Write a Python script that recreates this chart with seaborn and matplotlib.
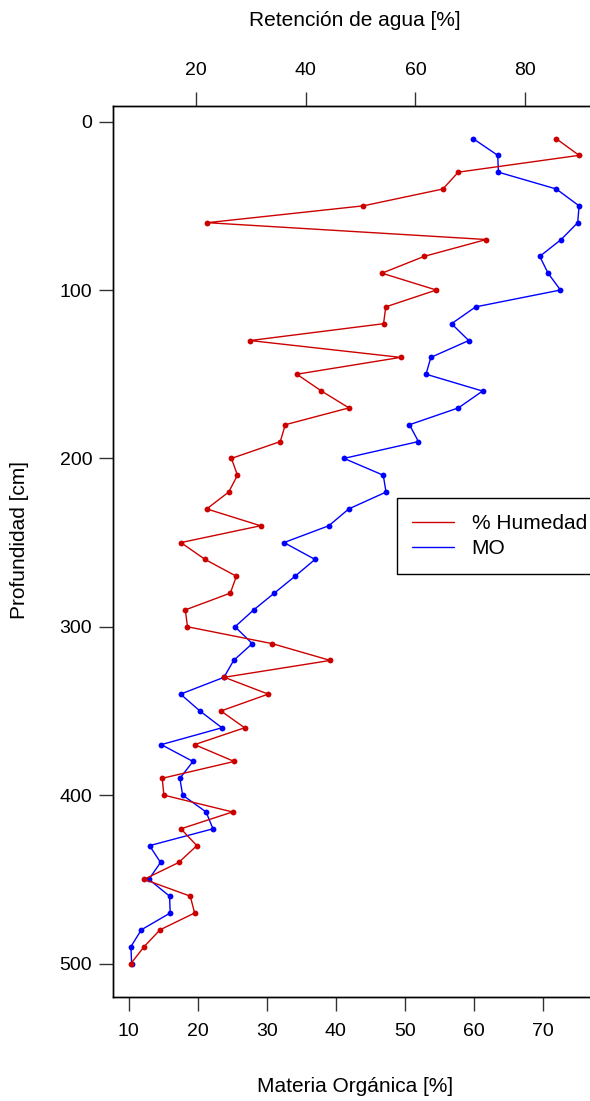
import matplotlib
matplotlib.use("Agg")
import matplotlib.pyplot as plt
from matplotlib.lines import Line2D
import seaborn as sns
import pandas as pd

# ---- data ----
profundidad = [10, 20, 30, 40, 50, 60, 70, 80, 90, 100,
               110, 120, 130, 140, 150, 160, 170, 180, 190, 200,
               210, 220, 230, 240, 250, 260, 270, 280, 290, 300,
               310, 320, 330, 340, 350, 360, 370, 380, 390, 400,
               410, 420, 430, 440, 450, 460, 470, 480, 490, 500]
humedad = [85.6, 89.8, 67.8, 65.0, 50.5, 22.1, 72.9, 61.6, 53.9, 63.8,
           54.6, 54.2, 29.9, 57.3, 38.4, 42.9, 47.9, 36.3, 35.4, 26.5,
           27.6, 26.0, 22.0, 31.8, 17.3, 21.7, 27.4, 26.3, 18.1, 18.5,
           33.9, 44.5, 25.2, 33.2, 24.6, 28.9, 19.8, 27.0, 13.9, 14.2,
           26.7, 17.3, 20.2, 16.9, 10.6, 19.0, 19.8, 13.5, 10.6, 8.2]
materia_organica = [59.9, 63.5, 63.6, 72.0, 75.3, 75.1, 72.7, 69.6, 70.8, 72.6,
                    60.3, 56.8, 59.3, 53.8, 53.1, 61.3, 57.8, 50.7, 52.0, 41.2,
                    46.9, 47.3, 41.9, 39.0, 32.5, 37.0, 34.1, 31.1, 28.1, 25.4,
                    27.9, 25.2, 23.8, 17.5, 20.3, 23.5, 14.7, 19.3, 17.4, 17.8,
                    21.2, 22.2, 13.0, 14.6, 12.9, 15.9, 16.0, 11.8, 10.3, 10.4]
mo_ticks = [10, 20, 30, 40, 50, 60, 70]
hum_ticks = [20, 40, 60, 80]
depth_ticks = [0, 100, 200, 300, 400, 500]
series_names = ["% Humedad", "MO"]

RED = "#CD0000"
BLUE = "#0000FF"

df = pd.DataFrame({"prof": profundidad, "hum": humedad, "mo": materia_organica})

sns.set_style("white")
plt.rcParams["font.family"] = ["Liberation Sans", "DejaVu Sans"]
plt.rcParams["text.color"] = "black"
plt.rcParams["axes.labelcolor"] = "black"
plt.rcParams["xtick.color"] = "black"
plt.rcParams["ytick.color"] = "black"

fig = plt.figure(figsize=(5.90, 11.01), dpi=100)
W, H = 590.0, 1101.0
left_px, right_px, top_px, bottom_px = 113.0, 597.0, 105.5, 996.5
ax = fig.add_axes([left_px / W, 1 - bottom_px / H,
                   (right_px - left_px) / W, (bottom_px - top_px) / H])

def pad_range(vals):
    lo, hi = min(vals), max(vals)
    d = (hi - lo) * 0.04
    return lo - d, hi + d

sns.lineplot(data=df, x="mo", y="prof", sort=False, estimator=None, ax=ax,
             color=BLUE, linewidth=1.0, marker="o", markersize=4.2,
             markeredgewidth=0, legend=False)
ax.set_xlim(*pad_range(materia_organica))
ax.set_ylim(pad_range(profundidad)[1], pad_range(profundidad)[0])

ax2 = ax.twiny()
sns.lineplot(data=df, x="hum", y="prof", sort=False, estimator=None, ax=ax2,
             color=RED, linewidth=1.0, marker="o", markersize=4.2,
             markeredgewidth=0, legend=False)
ax2.set_xlim(*pad_range(humedad))
ax2.set_ylim(pad_range(profundidad)[1], pad_range(profundidad)[0])

tick_fs = 14
lab_fs = 15
for a in (ax, ax2):
    for s in a.spines.values():
        s.set_color("black")
        s.set_linewidth(1.0)
        s.set_visible(True)

ax.set_xticks(mo_ticks)
ax.set_xticklabels([str(t) for t in mo_ticks])
ax.set_yticks(depth_ticks)
ax.set_yticklabels([str(t) for t in depth_ticks])
ax.tick_params(axis="x", which="both", direction="out", length=10, width=1,
               color="#333333", labelcolor="black", labelsize=tick_fs, pad=9,
               bottom=True, top=False)
ax.tick_params(axis="y", which="both", direction="out", length=10, width=1,
               color="#333333", labelcolor="black", labelsize=tick_fs, pad=5,
               left=True)

ax2.set_xticks(hum_ticks)
ax2.set_xticklabels([str(t) for t in hum_ticks])
ax2.tick_params(axis="x", which="both", direction="out", length=10, width=1,
                color="#333333", labelcolor="black", labelsize=tick_fs, pad=9,
                top=True, bottom=False)

ax.set_xlabel("Materia Orgánica [%]", fontsize=lab_fs, color="black")
ax.xaxis.set_label_coords(0.5, (bottom_px - 1086.7) / (bottom_px - top_px))
ax.xaxis.label.set_va("center")
ax.set_ylabel("Profundidad [cm]", fontsize=lab_fs, color="black")
ax.yaxis.set_label_coords((20.0 - left_px) / (right_px - left_px), 0.512)
ax.yaxis.label.set_va("center")
ax2.set_xlabel("Retención de agua [%]", fontsize=lab_fs, color="black")
ax2.xaxis.set_label_coords(0.5, (bottom_px - 20.0) / (bottom_px - top_px))
ax2.xaxis.label.set_va("center")

handles = [Line2D([0], [0], color=RED, lw=1.0),
           Line2D([0], [0], color=BLUE, lw=1.0)]
leg = ax2.legend(handles, series_names, loc="upper left",
                 bbox_to_anchor=((396.7 - left_px) / (right_px - left_px),
                                 (bottom_px - 498.3) / (bottom_px - top_px)),
                 fontsize=lab_fs, frameon=True, fancybox=False, shadow=False,
                 handlelength=2.0, handletextpad=0.85, borderpad=0.75,
                 labelspacing=0.3, borderaxespad=0.0)
leg.get_frame().set_edgecolor("black")
leg.get_frame().set_linewidth(1.0)
leg.get_frame().set_alpha(1.0)
for t in leg.get_texts():
    t.set_color("black")

fig.savefig("out.png", dpi=100)
